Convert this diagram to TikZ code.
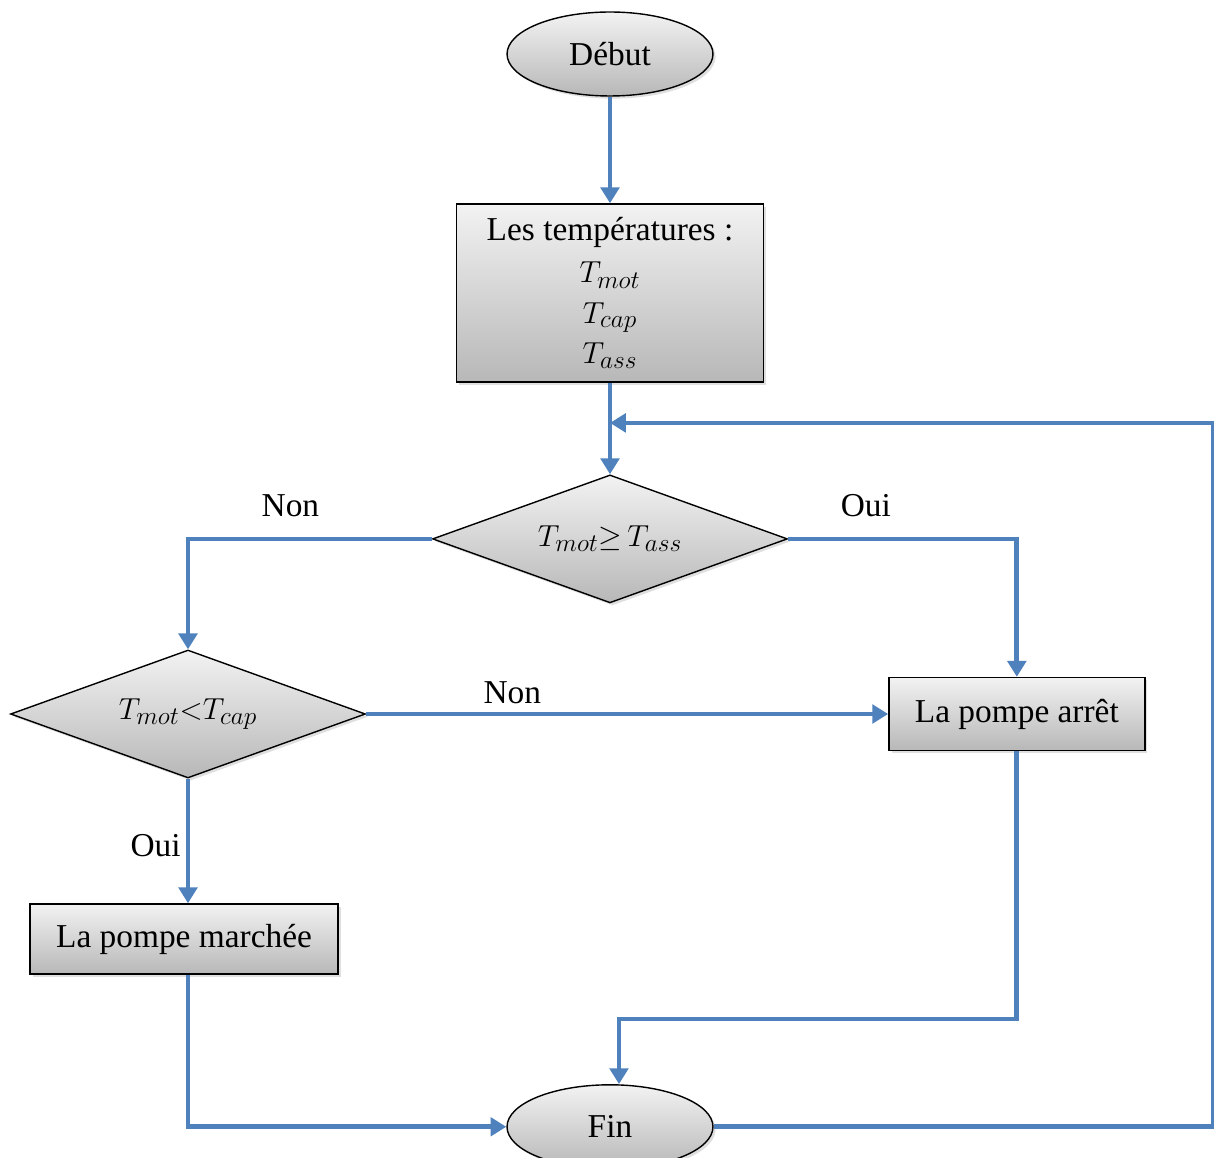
\documentclass[tikz,border=0pt]{standalone}
\usepackage{fontspec}
\setmainfont{Liberation Serif}
\usetikzlibrary{arrows.meta,shapes.geometric,shadows}
\definecolor{flowblue}{RGB}{79,129,189}

\begin{document}
\begin{tikzpicture}[x=0.02cm, y=-0.02cm, node distance=25mm, font=\fontsize{19}{23}\selectfont,
  terminal/.style={ellipse, draw, thick, inner sep=0pt, minimum width=4.12cm, minimum height=1.68cm, top color=black!5, bottom color=black!28, drop shadow={shadow xshift=1.5pt, shadow yshift=-1.5pt, opacity=0.25}},
  block/.style={rectangle, draw, thick, inner sep=0pt, top color=black!5, bottom color=black!28, drop shadow={shadow xshift=1.5pt, shadow yshift=-1.5pt, opacity=0.25}},
  decision/.style={diamond, draw, thick, aspect=2.8, inner sep=0pt, minimum width=7.1cm, minimum height=2.56cm, top color=black!5, bottom color=black!28, drop shadow={shadow xshift=1.5pt, shadow yshift=-1.5pt, opacity=0.25}},
  flow/.style={draw=flowblue, line width=2.7pt, -{Triangle[length=9pt, width=10.5pt]}},
  lbl/.style={inner sep=0pt}]

  \useasboundingbox (0,0) rectangle (1214,1158);

  \node[terminal] (start) at (610,54) {Début};
  \node[block, below of=start, align=center, node distance=4.78cm, minimum width=6.14cm, minimum height=3.56cm] (temps) {Les températures :\\[1pt]$T_{mot}$\\$T_{cap}$\\$T_{ass}$};
  \node[decision, below of=temps, node distance=4.92cm] (test1) {$T_{mot}{\geq}\,T_{ass}$};
  \node[coordinate, below of=temps, node distance=2.6cm] (merge) {};
  \node[decision, at={(188,714)}] (test2) {$T_{mot}{<}T_{cap}$};
  \node[block, right of=test2, node distance=16.58cm, minimum width=5.12cm, minimum height=1.46cm] (arret) {La pompe arrêt};
  \node[block, below of=test2, node distance=4.5cm, xshift=-0.08cm, minimum width=6.16cm, minimum height=1.4cm] (marche) {La pompe marchée};
  \node[terminal, below of=test1, node distance=11.76cm] (fin) {Fin};
  \node[coordinate, below of=arret, node distance=6.1cm] (bend) {};
  \node[coordinate, right of=fin, node distance=12.06cm] (corner) {};

  \draw[flow] (start) -- (temps);
  \draw[flow] (temps) -- (test1);
  \draw[flow] (test1.west) -| node[lbl, above=0.4cm, pos=0.29] {Non} (test2.north);
  \draw[flow] (test1.east) -| node[lbl, above=0.4cm, pos=0.17] {Oui} (arret.north);
  \draw[flow] (test2.east) -- node[lbl, above=0.16cm, pos=0.28] {Non} (arret.west);
  \draw[flow] (test2.south) -- node[lbl, left=0.1cm, pos=0.54] {Oui} (test2.south |- marche.north);
  \draw[flow] (test2.south |- marche.south) |- (fin.west);
  \draw[flow] (arret.south) -- (bend) -| ([xshift=0.18cm]fin.north);
  \draw[flow] (fin.east) -- (corner) |- (merge);

\end{tikzpicture}
\end{document}
